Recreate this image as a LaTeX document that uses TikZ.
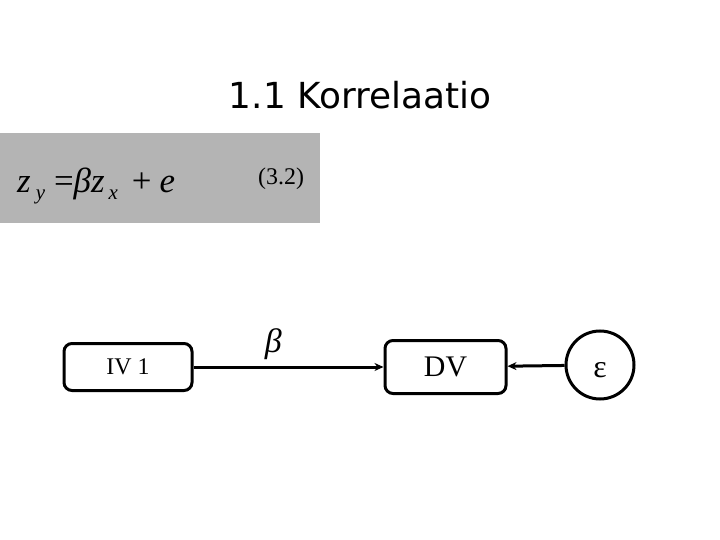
\documentclass[tikz,border=0pt]{standalone}
\usepackage{fontspec}
\setmainfont{Liberation Serif}
\newfontfamily\titlefont{DejaVu Sans}
\usepackage{xcolor}
\usetikzlibrary{positioning,shapes,arrows.meta}
\definecolor{eqgray}{RGB}{180,180,180}
\newcommand{\subtxt}[1]{\raisebox{-0.4ex}{\fontsize{21}{24}\selectfont\textit{#1}}}

\begin{document}
\begin{tikzpicture}[
    x=1bp, y=-1bp,
    box/.style={draw, line width=3bp, rounded corners=8bp, align=center},
    err/.style={draw, circle, line width=3bp, minimum size=68bp, inner sep=0pt},
    arrow/.style={-{Stealth[length=9bp,width=8bp]}, line width=3bp}
]
\useasboundingbox (0,0) rectangle (720,540);

% title
\node[font=\titlefont\fontsize{36}{40}\selectfont] (title) at (360,95) {1.1 Korrelaatio};

% equation
\fill[eqgray] (0,133) rectangle (320,223);
\node[anchor=base west, font=\fontsize{35}{40}\selectfont, inner sep=0pt] (eq) at (17,193)
  {\textit{z}\hspace{5bp}\subtxt{y}\hspace{9bp}=\textit{βz}\hspace{4bp}\subtxt{x}\hspace{14bp}+\hspace{8bp}\textit{e}};
\node[anchor=base west, font=\fontsize{24}{28}\selectfont, inner sep=0pt] (eqnum) at (258,185) {(3.2)};

% path model
\node[box, minimum width=128bp, minimum height=47bp, font=\fontsize{24}{28}\selectfont] (iv) at (128,367) {IV 1};
\node[box, minimum width=121bp, minimum height=53bp, font=\fontsize{30}{34}\selectfont] (dv) at (445.5,367) {DV};
\node[err, font=\fontsize{32}{36}\selectfont] (eps) at (600,365) {\raisebox{-12bp}[0pt][0pt]{ε}};

\draw[arrow] (iv) -- (dv) node[pos=0.42, above=2bp, font=\itshape\fontsize{34}{38}\selectfont] (beta) {β};
\draw[arrow] (eps) -- (dv);

\end{tikzpicture}
\end{document}
